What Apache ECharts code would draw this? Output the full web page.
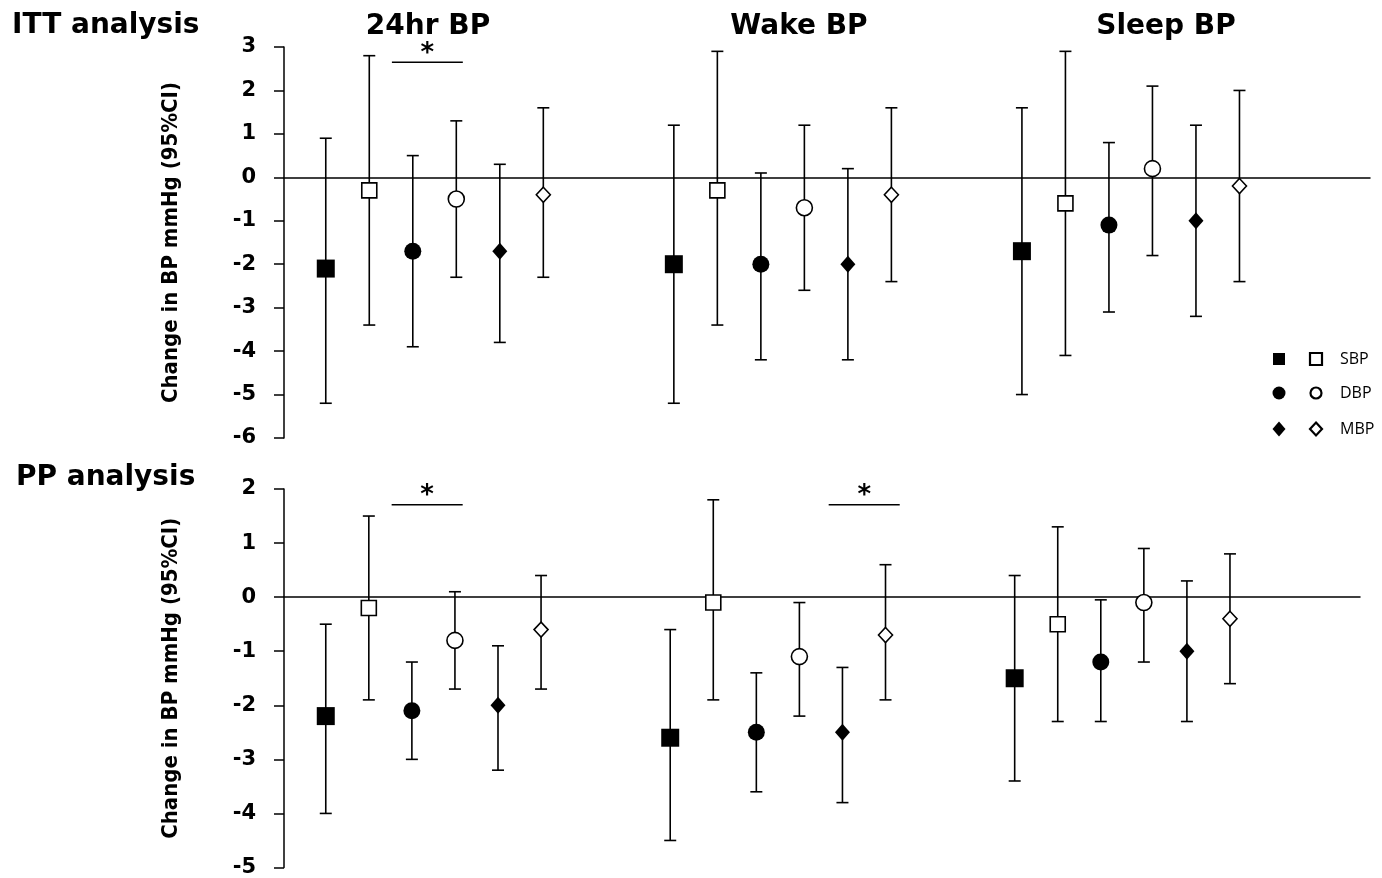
<!DOCTYPE html>
<html><head><meta charset="utf-8">
<script src="https://cdn.jsdelivr.net/npm/echarts@6/dist/echarts.min.js"></script>
<style>html,body{margin:0;padding:0;background:#fff}#c{width:1382px;height:878px}</style>
</head><body><div id="c"></div>
<script>
// ---- data ----
const groupNames = ['24hr BP', 'Wake BP', 'Sleep BP'];
const seriesKeys = ['SBP filled', 'SBP open', 'DBP filled', 'DBP open', 'MBP filled', 'MBP open'];
const legendLabels = ['SBP', 'DBP', 'MBP'];
const yTicksITT = [-6, -5, -4, -3, -2, -1, 0, 1, 2, 3];
const yTicksPP = [-5, -4, -3, -2, -1, 0, 1, 2];
// ITT analysis: [group][series]
const ittMean = [
  [-2.1, -0.3, -1.7, -0.5, -1.7, -0.4],
  [-2.0, -0.3, -2.0, -0.7, -2.0, -0.4],
  [-1.7, -0.6, -1.1, 0.2, -1.0, -0.2]
];
const ittLow = [
  [-5.2, -3.4, -3.9, -2.3, -3.8, -2.3],
  [-5.2, -3.4, -4.2, -2.6, -4.2, -2.4],
  [-5.0, -4.1, -3.1, -1.8, -3.2, -2.4]
];
const ittHigh = [
  [0.9, 2.8, 0.5, 1.3, 0.3, 1.6],
  [1.2, 2.9, 0.1, 1.2, 0.2, 1.6],
  [1.6, 2.9, 0.8, 2.1, 1.2, 2.0]
];
// PP analysis
const ppMean = [
  [-2.2, -0.2, -2.1, -0.8, -2.0, -0.6],
  [-2.6, -0.1, -2.5, -1.1, -2.5, -0.7],
  [-1.5, -0.5, -1.2, -0.1, -1.0, -0.4]
];
const ppLow = [
  [-4.0, -1.9, -3.0, -1.7, -3.2, -1.7],
  [-4.5, -1.9, -3.6, -2.2, -3.8, -1.9],
  [-3.4, -2.3, -2.3, -1.2, -2.3, -1.6]
];
const ppHigh = [
  [-0.5, 1.5, -1.2, 0.1, -0.9, 0.4],
  [-0.6, 1.8, -1.4, -0.1, -1.3, 0.6],
  [0.4, 1.3, -0.05, 0.9, 0.3, 0.8]
];
// significance brackets: [groupIndex, fromSeries, toSeries, yLevel]
const ittSig = [[0, 1.52, 3.15, 2.65]];
const ppSig = [[0, 1.53, 3.18, 1.71], [1, 3.68, 5.33, 1.71]];

// ---- styles ----
const GROUP_STEP = 8;
const markerStyles = [
  {symbol: 'rect', size: 18, fill: '#000'},
  {symbol: 'rect', size: 15, fill: '#fff'},
  {symbol: 'circle', size: 17, fill: '#000'},
  {symbol: 'circle', size: 16, fill: '#fff'},
  {symbol: 'diamond', size: [15, 17], fill: '#000'},
  {symbol: 'diamond', size: [14, 15], fill: '#fff'}
];
const tickFont = {fontFamily: 'DejaVu Sans', fontWeight: 'bold', fontSize: 21, color: '#000'};

function panelSeries(mean, low, high, sig, axisIdx) {
  const out = [];
  const barData = [];
  for (let g = 0; g < mean.length; g++) {
    for (let s = 0; s < mean[g].length; s++) {
      barData.push([g * GROUP_STEP + s, low[g][s], high[g][s]]);
    }
  }
  out.push({
    type: 'custom', xAxisIndex: axisIdx, yAxisIndex: axisIdx, z: 2,
    data: barData, encode: {x: 0, y: [1, 2]}, silent: true,
    renderItem: function (params, api) {
      const x = api.value(0);
      const top = api.coord([x, api.value(2)]);
      const bot = api.coord([x, api.value(1)]);
      const hw = 6;
      const st = {stroke: '#000', lineWidth: 1.6};
      return {type: 'group', children: [
        {type: 'line', shape: {x1: top[0], y1: top[1], x2: bot[0], y2: bot[1]}, style: st},
        {type: 'line', shape: {x1: top[0] - hw, y1: top[1], x2: top[0] + hw, y2: top[1]}, style: st},
        {type: 'line', shape: {x1: bot[0] - hw, y1: bot[1], x2: bot[0] + hw, y2: bot[1]}, style: st}
      ]};
    }
  });
  for (let s = 0; s < seriesKeys.length; s++) {
    const m = markerStyles[s];
    out.push({
      name: seriesKeys[s], type: 'scatter', xAxisIndex: axisIdx, yAxisIndex: axisIdx, z: 5,
      symbol: m.symbol, symbolSize: m.size, silent: true,
      itemStyle: {color: m.fill, borderColor: '#000', borderWidth: m.fill === '#fff' ? 1.6 : 0, opacity: 1},
      data: mean.map((row, g) => [g * GROUP_STEP + s, row[s]])
    });
  }
  out.push({
    type: 'custom', xAxisIndex: axisIdx, yAxisIndex: axisIdx, z: 3, silent: true,
    data: sig.map(d => [d[0] * GROUP_STEP + d[1], d[0] * GROUP_STEP + d[2], d[3]]),
    encode: {x: [0, 1], y: 2},
    renderItem: function (params, api) {
      const a = api.coord([api.value(0), api.value(2)]);
      const b = api.coord([api.value(1), api.value(2)]);
      return {type: 'group', children: [
        {type: 'line', shape: {x1: a[0], y1: a[1], x2: b[0], y2: b[1]}, style: {stroke: '#000', lineWidth: 1.4}},
        {type: 'text', style: {text: '*', x: (a[0] + b[0]) / 2, y: a[1] - 8, align: 'center', verticalAlign: 'middle',
          font: 'bold 26px "DejaVu Sans"', fill: '#000'}}
      ]};
    }
  });
  return out;
}

function yAxis(ticks, idx) {
  return {
    type: 'value', gridIndex: idx, min: ticks[0], max: ticks[ticks.length - 1], interval: 1,
    name: 'Change in BP mmHg (95%CI)', nameLocation: 'middle', nameGap: 102,
    nameTextStyle: {fontFamily: 'DejaVu Sans Condensed, DejaVu Sans', fontWeight: 'bold', fontSize: 22, color: '#000'},
    axisLine: {show: true, onZero: false, lineStyle: {color: '#000', width: 1.5}},
    axisTick: {show: true, length: 10, lineStyle: {color: '#000', width: 1.5}},
    axisLabel: Object.assign({margin: 28, formatter: v => String(v)}, tickFont),
    splitLine: {show: false}
  };
}
function xAxis(min, max, idx) {
  return {
    type: 'value', gridIndex: idx, min: min, max: max,
    axisLine: {show: true, onZero: true, lineStyle: {color: '#000', width: 1.5}},
    axisTick: {show: false}, axisLabel: {show: false}, splitLine: {show: false}
  };
}

const titleFont = 'bold 28px "DejaVu Sans"';
const graphics = [
  {type: 'text', left: 12, top: 12, style: {text: 'ITT analysis', font: titleFont, fill: '#000'}},
  {type: 'text', left: 16, top: 464, style: {text: 'PP analysis', font: titleFont, fill: '#000'}}
];
const groupCenters = [428, 799, 1166];
groupNames.forEach((g, i) => {
  graphics.push({type: 'text', x: groupCenters[i], y: 27, style: {text: g, font: titleFont, fill: '#000', align: 'center', verticalAlign: 'middle'}});
});
// legend
const legY = [359, 393, 429];
const legShapes = [
  [{type: 'rect', shape: {x: -6, y: -6, width: 12, height: 12}}, {type: 'rect', shape: {x: -6, y: -6, width: 12, height: 12}}],
  [{type: 'circle', shape: {cx: 0, cy: 0, r: 6.5}}, {type: 'circle', shape: {cx: 0, cy: 0, r: 5.5}}],
  [{type: 'polygon', shape: {points: [[0, -7.5], [6.5, 0], [0, 7.5], [-6.5, 0]]}}, {type: 'polygon', shape: {points: [[0, -6.5], [6, 0], [0, 6.5], [-6, 0]]}}]
];
legendLabels.forEach((lab, i) => {
  const f = Object.assign({}, legShapes[i][0], {x: 1279, y: legY[i], style: {fill: '#000'}});
  const o = Object.assign({}, legShapes[i][1], {x: 1316, y: legY[i], style: {fill: '#fff', stroke: '#000', lineWidth: 2.2}});
  graphics.push(f, o);
  graphics.push({type: 'text', x: 1340, y: legY[i], style: {text: lab, font: '16px "Open Sans"', fill: '#000', verticalAlign: 'middle'}});
});

const chart = echarts.init(document.getElementById('c'), null, {renderer: 'canvas'});
chart.setOption({
  backgroundColor: '#fff',
  animation: false,
  grid: [
    {left: 284, top: 47, width: 1086, height: 391, containLabel: false},
    {left: 284, top: 489, width: 1076, height: 381, containLabel: false}
  ],
  xAxis: [xAxis(-0.96, 24.0, 0), xAxis(-0.97, 24.02, 1)],
  yAxis: [yAxis(yTicksITT, 0), yAxis(yTicksPP, 1)],
  series: panelSeries(ittMean, ittLow, ittHigh, ittSig, 0).concat(panelSeries(ppMean, ppLow, ppHigh, ppSig, 1)),
  graphic: graphics
});
</script></body></html>
